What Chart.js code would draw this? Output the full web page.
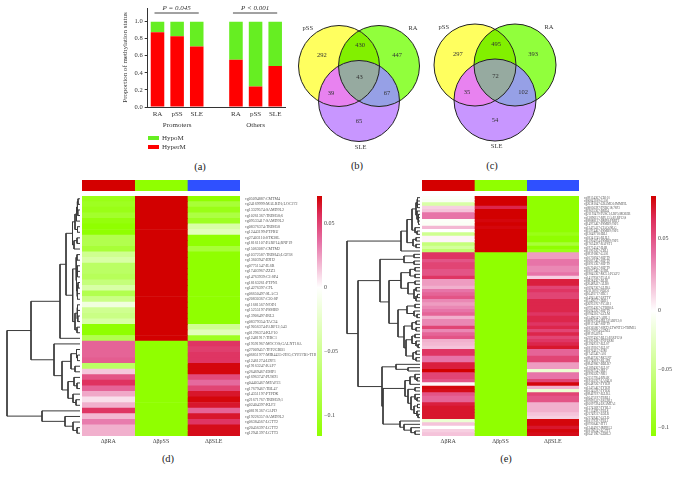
<!DOCTYPE html>
<html><head><meta charset="utf-8">
<script src="https://cdn.jsdelivr.net/npm/chart.js@4/dist/chart.umd.js"></script>
<style>
html,body{margin:0;padding:0;background:#fff;width:676px;height:480px;overflow:hidden}
canvas{position:absolute}
.cap{position:absolute;font:10.5px "Liberation Serif",serif;color:#222;transform:translate(-50%,-50%)}
</style></head><body>
<div class="cap" style="left:200px;top:166px">(a)</div>
<div class="cap" style="left:357px;top:165px">(b)</div>
<div class="cap" style="left:492px;top:165px">(c)</div>
<div class="cap" style="left:168px;top:458px">(d)</div>
<div class="cap" style="left:506px;top:458px">(e)</div>
<script>
// ---------- panel (a)
const statusCategories = ['RA','pSS','SLE','','RA','pSS','SLE'];
const hyperM = [0.875,0.83,0.71,null,0.555,0.24,0.48];
const hypoM  = [0.125,0.17,0.29,null,0.445,0.76,0.52];
const yTitle = 'Proportion of methylation status';

// ---------- panels (b), (c)  [pSS, RA, SLE, pSS&RA, all, pSS&SLE, RA&SLE]
const vennNames = ['pSS','RA','SLE'];
const vennB = [292,447,65,430,43,39,67];
const vennC = [297,393,54,495,72,35,102];

// ---------- panel (d)
const heatColumns = ['ΔβRA','ΔβpSS','ΔβSLE'];
const probesD = ['cg05094887:CMTM4','cg24169999:MALRD1;LOC272','cg13329574:SAMD9L2','cg10261367:TRIM58;6','cg09533417:SAMD9L2','cg08376374:TRIM58','cg12443199:PTPRU','cg27403110:STK38L','cg18161107:PARP14;RNF19','cg15063087:CMTM2','cg10372587:TRIM45;LGP38','cg13603947:IDH2','cg07751547:IL6R','cg17403967:ZZZ3','cg14763939:C2:SP4','cg18163261:PTPN1','cg14276397:CFL','cg06650497:SLAC3','cg20830367:C20:SP','cg11681567:NOD1','cg15255197:PSMB9','cg13906497:IRL3','cg08379354:TAC34','cg19056374:PARP12;543','cg01296374:KLF10','cg12481917:TIRC1',
'cg19591967:MOCOS;GALNT18A','cg27009457:TFP2GRB1','cg06851977:MIR4435-2HG;CYP27B1-THSD7','cg12461274:LDP3','cg19163247:RAP7','cg26469467:EMP1','cg16963747:PUSD1','cg04403467:MFAP23','cg17679467:TBL47','cg14351197:PTPDK','cg21671767:TRIM59;1','cg02404397:KLF2','cg08191367:GAPD','cg19226357:SAMD9L2','cg06384567:LGTT2','cg20456397:LGTT2','cg12941397:LGTT3'];
const dRA  = [-0.105,-0.1,-0.105,-0.095,-0.11,-0.115,-0.115,-0.08,-0.08,-0.09,-0.05,-0.04,-0.07,-0.07,-0.075,-0.06,-0.04,-0.08,-0.055,-0.015,-0.05,-0.055,-0.04,-0.115,-0.115,-0.08,
0.04,0.04,0.04,0.042,-0.07,0.014,0.045,0.056,0.04,0.022,0.008,0.02,0.055,0.018,0.033,0.02,0.02];
const dSS  = [0.072,0.072,0.072,0.072,0.072,0.072,0.072,0.072,0.072,0.072,0.072,0.072,0.072,0.072,0.072,0.072,0.072,0.072,0.072,0.072,0.072,0.072,0.072,0.072,0.072,0.072,
-0.115,-0.115,-0.115,-0.115,-0.115,-0.115,-0.115,-0.115,-0.115,-0.115,-0.115,-0.115,-0.115,-0.115,-0.115,-0.115,-0.115];
const dSLE = [-0.115,-0.09,-0.105,-0.085,-0.1,-0.04,-0.03,-0.115,-0.115,-0.09,-0.115,-0.115,-0.115,-0.115,-0.115,-0.115,-0.115,-0.115,-0.115,-0.115,-0.115,-0.115,-0.115,-0.05,-0.03,-0.1,
0.055,0.052,0.055,0.055,0.07,0.07,0.048,0.038,0.05,0.065,0.07,0.065,0.04,0.065,0.055,0.068,0.068];
const treeD = [73,[49,[20,[14,[7.5,[5,[3.5,[2.8,[2,0,1],[2.2,2,3]],4],[2.5,5,6]],[6,[3,7,8],9]],[7.3,[4,[3,10,11],[3.5,[3,12,[2.5,13,14]],[3,[2,15,16],[2.5,17,18]]]],[5,[3,[2.5,19,20],[2.2,21,22]],[3,23,24]]]],25],[26,26,[18,[9,[3.5,27,[2.5,28,29]],[5,30,31]],[12,[6,32,[3,33,34]],[7,35,[4,36,37]]]]]],[38,38,[15,39,[7,40,[3,41,42]]]]];

// ---------- panel (e)
const probesE = ['cg09154367:CD101','cg06843189:GAS1','cg26381047:GRAMD1;IMMP2L','cg08056397:TNRC18;7SP3','cg19635367:BRD4','cg21193479:TUSC1;LRP5;MOB3B','cg13896157:RPL13A;PARP12;S','cg09888137:BMP8;PRRT2','cg14973467:PSMB9;7SP3','cg13475417:CIAO;JSLG','cg15974467:PSMB9;7SP3','cg12649718:IDL1','cg18341745:RLIL3','cg12904974:PSMB9;7SP3','cg17634397:RAFST1','cg19754547:IL6R','cg13901267:CBL1',
'cg09391867:GAS1','cg10758947:SEPT9','cg16837467:SEPT9','cg18913367:SEPT9','cg05704167:SEPT9','cg18973467:LHRL','cg19845367:MCL1;PCGF2','cg14179587:TIAL8','cg08284367:DLB1','cg20489417:ALBS','cg01947367:GLIRA','cg21138707:NOD1','cg16493717:HIC1','cg14945467:LRTTY','cg15496577:IDH1','cg26953767:YCAR1','cg07954367:CYBB8;L','cg16943267:SEPT9','cg07843167:GCLM','cg15496347:AJRL1','cg08967304:IRL3;PARP12;S','cg09137467:SEPT9','cg18365807:SIRT2;LTWNT13-TRIM15','cg10776974:GZMA','cg09195419:L','cg23974567:RL13;PARP12;S','cg13901287:TNFLRM','cg12949317:IGLS7','cg18192167:IGLS7','cg18764157:LIM','cg17435467:AS1','cg09467367:MCLN7','cg15749197:RLAT8','cg09419867:BDLR7','cg13894367:IGLS7','cg03967547:IRL7','cg19963267:NK1','cg21557954:RNAK','cg19563767:LAS4L8','cg16487267:TYR39','cg13475467:TYR39','cg10345297:TYR36','cg09467197:IGLRA','cg16475197:TBRL1','cg07893417:LRGRL1','cg16097394:LRAMTA3','cg13743697:TYRL3','cg17134997:TBL8','cg21749317:LDLR','cg21749467:GCLD','cg18179397:TBL1','cg07958467:ITT1','cg12464917:IMPRL3','cg18196347:LGTT2','cg16471967:GDRL2'];
const eRA  = [-0.003,-0.005,-0.04,0.012,0.015,0.035,0.035,-0.003,-0.004,0.018,0,-0.05,0.003,0.003,-0.06,-0.045,-0.065,
0.055,0.055,0.045,0.05,0.05,0.045,0.045,0.055,0.025,0.025,0.02,0.035,0.04,0.045,0.03,0.025,0.03,0.035,0.04,0.02,0.03,0.03,0.05,0.03,0.04,0.045,0.02,0.018,0.015,0.055,0.055,0.035,0.035,0.062,0.062,0.072,0.05,0.05,0.045,0.002,0.07,0.068,0.045,0.04,0.04,0.062,0.065,0.065,0.065,0.065,-0.02,0.015,0,0.012,0.015];
const eSS  = [0.072,0.072,0.072,0.06,0.072,0.072,0.072,0.07,0.072,0.07,0.072,0.072,0.072,0.072,0.072,0.072,0.072,
-0.115,-0.115,-0.115,-0.115,-0.115,-0.115,-0.115,-0.115,-0.115,-0.115,-0.115,-0.115,-0.115,-0.115,-0.115,-0.115,-0.115,-0.115,-0.115,-0.115,-0.115,-0.115,-0.115,-0.115,-0.115,-0.115,-0.115,-0.115,-0.115,-0.115,-0.115,-0.115,-0.115,-0.115,-0.115,-0.115,-0.115,-0.115,-0.115,-0.115,-0.115,-0.115,-0.115,-0.115,-0.115,-0.115,-0.115,-0.115,-0.115,-0.115,-0.115,-0.115,-0.115,-0.115,-0.115];
const eSLE = [-0.115,-0.115,-0.115,-0.115,-0.115,-0.115,-0.115,-0.115,-0.115,-0.115,-0.115,-0.105,-0.115,-0.115,-0.09,-0.115,-0.105,
0.025,0.025,0.035,0.035,0.03,0.03,0.035,0.012,0.062,0.062,0.05,0.055,0.05,0.05,0.06,0.06,0.06,0.06,0.055,0.06,0.06,0.055,0.06,0.05,0.06,0.05,0.055,0.06,0.065,0.04,0.04,0.05,0.05,0.025,0.025,-0.02,0.035,0.035,0.05,0.07,0.02,-0.02,0.05,0.045,0.045,0.02,0.02,0.02,0.015,0.012,0.07,0.07,0.065,0.07,0.068];
const treeE = [73,[19,[13,[8,[4,[3,[2.5,0,1],[2.5,2,3]],[3,4,[2,[1.5,5,6],[1.5,7,8]]]],[5,9,[3,10,11]]],[7,[4,12,13],[4,14,15]]],16],
[62,[40,[16,[6,17,18],[6,19,20]],[31,[19,[10,[5,21,22],[5,23,24]],[12,[5,25,26],[6,[4,27,28],[4,[2.5,29,30],31]]]],[22,[13,[5,32,33],[6,34,[3,35,36]]],[16,[8,[4,37,38],[4,39,40]],[14,[8,[5,41,42],[4,43,[2,44,45]]],[7,[4,46,47],[4,48,49]]]]]]],
[38,[24,50,[12,51,52]],[37,[15,[10,[5,53,[3,54,55]],56],[12,[5,57,58],[9,[5,59,[3,60,61]],[6,[2.5,62,63],[3,64,[2,65,66]]]]]],[20,67,[16,68,[9,69,[5,70,71]]]]]]]];

const stripColors = ['#d40000','#90ff00','#2f50ff'];
const stripValues = [1,1,1];
const barTicks = [0.05,0,-0.05,-0.1];
const barTickLabels = ['0.05','0','−0.05','−0.1'];

// ---------- helpers
Chart.defaults.font.family = '"Liberation Serif", serif';
Chart.defaults.color = '#333';
Chart.defaults.animation = false;
Chart.defaults.devicePixelRatio = 1;
Chart.defaults.responsive = false;
Chart.defaults.plugins.legend.display = false;
Chart.defaults.plugins.tooltip.enabled = false;

function canvasAt(l,t,w,h){
  const c=document.createElement('canvas');
  c.width=w;c.height=h;
  c.style.left=l+'px';c.style.top=t+'px';c.style.width=w+'px';c.style.height=h+'px';
  document.body.appendChild(c);
  return c.getContext('2d');
}
const noPad=s=>{s.paddingTop=0;s.paddingBottom=0;s.paddingLeft=0;s.paddingRight=0;};
const mix=(a,b,t)=>a.map((x,i)=>Math.round(x+(b[i]-x)*t));
const POS=[[0,[255,255,255]],[0.5,[230,112,165]],[0.8,[222,45,90]],[1,[210,0,0]]];
function heatColor(v){
  if(v<0){const c=mix([255,255,255],[144,255,0],Math.min(1,-v/0.115));return `rgb(${c})`;}
  const t=Math.min(1,v/0.072);
  for(let i=1;i<POS.length;i++){
    if(t<=POS[i][0]){const c=mix(POS[i-1][1],POS[i][1],(t-POS[i-1][0])/(POS[i][0]-POS[i-1][0]));return `rgb(${c})`;}
  }
  return 'rgb(210,0,0)';
}

// ---------- (a)
new Chart(canvasAt(121,0,169,155),{
  type:'bar',
  data:{labels:statusCategories,datasets:[
    {label:'HyperM',data:hyperM,backgroundColor:'#ff0000',barPercentage:0.69,categoryPercentage:1},
    {label:'HypoM',data:hypoM,backgroundColor:'#66ee22',barPercentage:0.69,categoryPercentage:1}]},
  options:{
    layout:{padding:{top:8,right:5,left:0,bottom:0}},
    scales:{
      x:{stacked:true,grid:{display:false,drawTicks:false},border:{color:'#333'},
         ticks:{font:{size:7},autoSkip:false,maxRotation:0,padding:3},
         afterFit:s=>{s.height=48;noPad(s);}},
      y:{stacked:true,min:0,max:1.16,grid:{drawOnChartArea:false,color:'#333',tickLength:3},border:{color:'#333'},
         ticks:{stepSize:0.2,includeBounds:false,font:{size:6.5},padding:2,callback:v=>v.toFixed(1)},
         title:{display:true,text:yTitle,font:{size:7},padding:0},
         afterFit:s=>{s.width=26.7;noPad(s);}}
    }
  },
  plugins:[{id:'statusText',afterDraw(ch){
    const c=ch.ctx,x=ch.scales.x;
    c.save();c.textAlign='center';c.textBaseline='middle';c.fillStyle='#333';
    c.font='italic 7px "Liberation Serif"';
    [[0,2,'P = 0.045',1],[4,6,'P < 0.001',5]].forEach(([a,b,t,m])=>{
      const xa=x.getPixelForValue(a)-3,xb=x.getPixelForValue(b)+2;
      c.strokeStyle='#444';c.lineWidth=1;c.beginPath();c.moveTo(xa,13);c.lineTo(xb,13);c.stroke();
      c.fillText(t,(xa+xb)/2,8);
    });
    c.font='7px "Liberation Serif"';
    c.fillText('Promoters',x.getPixelForValue(1),125);
    c.fillText('Others',x.getPixelForValue(5),125);
    const ds=ch.data.datasets;
    [[1,138],[0,147]].forEach(([i,y])=>{
      c.fillStyle=ds[i].backgroundColor;c.fillRect(27,y-2,11,4);
      c.fillStyle='#333';c.textAlign='left';c.fillText(ds[i].label,41,y);
    });
    c.restore();
  }}]
});

// ---------- (b), (c)
const VENN_CENTERS=[{x:-0.5,y:0.5},{x:0.5,y:0.5},{x:0,y:-0.375}];
const VENN_COUNT_POS=[[-0.93,0.76],[0.95,0.76],[0,-0.89],[0.03,1.03],[0.01,0.23],[-0.7,-0.19],[0.7,-0.19]];
const VENN_NAME_POS=[[-1.28,1.45],[1.35,1.45],[0.04,-1.53]];
const VENN_FILL=['#ffff5f','#91ff3c','#c896ff'];
function venn(left,top,counts,r){
  new Chart(canvasAt(left,top,136,137),{
    type:'bubble',
    data:{datasets:vennNames.map((n,i)=>({label:n,data:[{x:VENN_CENTERS[i].x,y:VENN_CENTERS[i].y,r}],backgroundColor:VENN_FILL[i],borderWidth:0,clip:false}))},
    options:{layout:{padding:0,autoPadding:false},scales:{x:{display:false,min:-1.7,max:1.7},y:{display:false,min:-1.725,max:1.7}}},
    plugins:[{id:'vennRegions',afterDatasetsDraw(ch){
      const c=ch.ctx,P=[0,1,2].map(i=>ch.getDatasetMeta(i).data[0]);
      const path=i=>{c.beginPath();c.arc(P[i].x,P[i].y,r,0,Math.PI*2);};
      const region=(ids,col)=>{c.save();ids.forEach(i=>{path(i);c.clip();});c.fillStyle=col;c.fillRect(0,0,136,137);c.restore();};
      region([0,1],'#82f000');region([0,2],'#e882f0');region([1,2],'#96a0e6');region([0,1,2],'#96aaa0');
      c.strokeStyle='#222';c.lineWidth=1;[0,1,2].forEach(i=>{path(i);c.stroke();});
      c.fillStyle='#333';c.textAlign='center';c.textBaseline='middle';c.font='6.5px "Liberation Serif"';
      const sx=ch.scales.x,sy=ch.scales.y;
      counts.forEach((v,i)=>c.fillText(String(v),sx.getPixelForValue(VENN_COUNT_POS[i][0]),sy.getPixelForValue(VENN_COUNT_POS[i][1])));
      vennNames.forEach((n,i)=>c.fillText(n,sx.getPixelForValue(VENN_NAME_POS[i][0]),sy.getPixelForValue(VENN_NAME_POS[i][1])));
    }}]
  });
}
venn(291,18,vennB,40.5);
venn(427,17,vennC,41);

// ---------- heat map parts
function strip(left,width){
  new Chart(canvasAt(left,180,width,11),{
    type:'bar',
    data:{labels:['group'],datasets:heatColumns.map((n,i)=>({label:n,data:[stripValues[i]],backgroundColor:stripColors[i],barPercentage:1,categoryPercentage:1}))},
    options:{indexAxis:'y',layout:{padding:0},scales:{x:{display:false,stacked:true,min:0,max:3},y:{display:false,stacked:true}}}
  });
}
function heatmap(left,width,labelW,probes,cols,tickSize){
  new Chart(canvasAt(left,196,width+labelW,254),{
    type:'bar',
    data:{labels:probes,datasets:heatColumns.map((n,i)=>({
      label:n,data:probes.map(()=>1),backgroundColor:cols[i].map(heatColor),
      barPercentage:1,categoryPercentage:1,borderWidth:0}))},
    options:{indexAxis:'y',layout:{padding:0},scales:{
      x:{stacked:true,min:0,max:3,grid:{display:false,drawTicks:false},border:{display:false},
         afterBuildTicks:s=>{s.ticks=[0.5,1.5,2.5].map(value=>({value}));},
         ticks:{font:{size:6},color:'#444',padding:2,autoSkip:false,maxRotation:0,callback:(v,i)=>heatColumns[i]},
         afterFit:s=>{s.height=14;noPad(s);}},
      y:{stacked:true,position:'right',grid:{display:false,drawTicks:false},border:{display:false},
         ticks:{font:{size:tickSize},color:'#555',padding:5,autoSkip:false,maxRotation:0},
         afterFit:s=>{s.width=labelW;noPad(s);}}
    }}
  });
}
function dendrogram(left,rows,tree){
  const pts=[];
  const walk=n=>{
    if(typeof n==='number')return {h:0,y:n+0.5};
    const a=walk(n[1]),b=walk(n[2]);
    pts.push({x:a.h,y:a.y},{x:n[0],y:a.y},{x:n[0],y:b.y},{x:b.h,y:b.y},{x:NaN,y:NaN});
    return {h:n[0],y:(a.y+b.y)/2};
  };
  walk(tree);
  new Chart(canvasAt(left,196,80,240),{
    type:'scatter',
    data:{datasets:[{data:pts,showLine:true,spanGaps:false,pointRadius:0,borderColor:'#3a3a3a',borderWidth:1,clip:false}]},
    options:{layout:{padding:0},scales:{
      x:{display:false,type:'linear',reverse:true,min:0,max:80},
      y:{display:false,type:'linear',reverse:true,min:0,max:rows}}}
  });
}
function colorbar(left,stretch,vMin,vMax){
  const pos=v=>v>0?v*stretch:v;
  const top=vMax, bot=vMin;
  new Chart(canvasAt(left,196,36,240),{
    type:'bar',
    data:{labels:['Δβ'],datasets:[{data:[[bot,top]],barPercentage:1,categoryPercentage:1,borderSkipped:false,
      backgroundColor(ctx){
        const ch=ctx.chart,a=ch.chartArea;
        if(!a)return '#fff';
        const g=ch.ctx.createLinearGradient(0,a.top,0,a.bottom),zero=top/(top-bot);
        g.addColorStop(0,'rgb(210,0,0)');
        POS.slice(1,3).reverse().forEach(p=>g.addColorStop(zero*(1-p[0]),`rgb(${p[1]})`));
        g.addColorStop(zero,'#fff');
        g.addColorStop(1,'rgb(144,255,0)');
        return g;
      }}]},
    options:{layout:{padding:0},scales:{
      x:{display:false},
      y:{position:'right',min:bot,max:top,grid:{display:false,drawTicks:false},border:{display:false},
         afterBuildTicks:s=>{s.ticks=barTicks.map(v=>({value:pos(v)}));},
         ticks:{font:{size:6},color:'#444',padding:2,autoSkip:false,callback:(v,i)=>barTickLabels[i]},
         afterFit:s=>{s.width=31;noPad(s);}}
    }}
  });
}

// ---------- (d)
strip(82,158);
dendrogram(0,probesD.length,treeD);
heatmap(82,158,76,probesD,[dRA,dSS,dSLE],4);
colorbar(317,1,-0.1165,0.0717);
// ---------- (e)
strip(422,157);
dendrogram(340,probesE.length,treeE);
heatmap(422,157,70,probesE,[eRA,eSS,eSLE],3.2);
colorbar(651,1.248,-0.107,0.0983);
</script>
</body></html>
